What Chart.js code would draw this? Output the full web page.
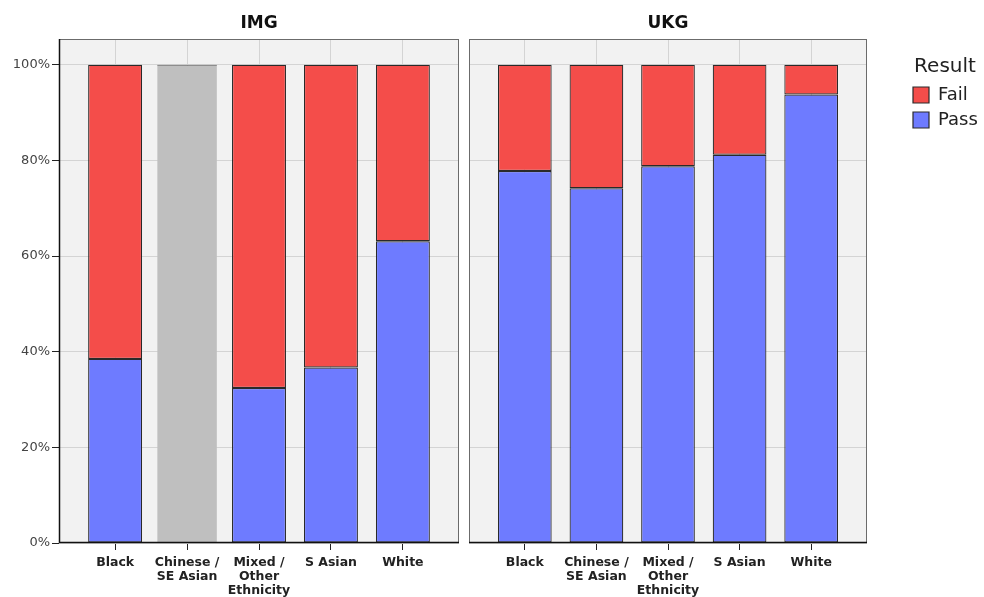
<!DOCTYPE html>
<html><head><meta charset="utf-8">
<script src="https://cdn.jsdelivr.net/npm/chart.js@4"></script>
<style>
html,body{margin:0;padding:0;background:#fff;}
#wrap{position:relative;width:984px;height:597px;overflow:hidden;}
canvas{position:absolute;top:0;}
#cL{left:0;} #cR{left:464px;}
</style></head><body>
<div id="wrap">
<canvas id="cL" width="464" height="597"></canvas>
<canvas id="cR" width="520" height="597"></canvas>
</div>
<script>
// ---- data ----
const categories = [["Black"], ["Chinese /", "SE Asian"], ["Mixed /", "Other", "Ethnicity"], ["S Asian"], ["White"]];
const panelTitles = ["IMG", "UKG"];
const imgPass = [38.5, null, 32.4, 36.7, 63.1];
const imgFail = [61.5, null, 67.6, 63.3, 36.9];
const imgNoResult = [null, 100, null, null, null];
const ukgPass = [77.8, 74.2, 78.8, 81.2, 93.8];
const ukgFail = [22.2, 25.8, 21.2, 18.8, 6.2];
const yTicks = [0, 20, 40, 60, 80, 100];
const legendTitle = "Result";

// ---- styles ----
const PASS = '#6e7bff', FAIL = '#f44d4a', EDGE = '#2a2a2a', GRID = '#d4d4d4';
Chart.defaults.font.family = "'DejaVu Sans', sans-serif";
Chart.defaults.animation = false;

const panelPlugin = {
  id: 'panel',
  beforeDraw(chart) {
    const {ctx, chartArea: a} = chart;
    ctx.save();
    ctx.fillStyle = '#f2f2f2';
    ctx.fillRect(a.left, a.top, a.right - a.left, a.bottom - a.top);
    ctx.restore();
  },
  afterDraw(chart, args, opts) {
    const {ctx, chartArea: a} = chart;
    const L = Math.round(a.left), R = Math.round(a.right), T = Math.round(a.top), B = Math.round(a.bottom);
    ctx.save();
    ctx.lineWidth = 1;
    ctx.strokeStyle = '#6b6b6b';
    ctx.strokeRect(L + 0.5, T + 0.5, R - L - 1, B - T - 1);
    ctx.strokeStyle = '#111';
    ctx.lineWidth = 1.5;
    ctx.beginPath();
    ctx.moveTo(L, B - 0.5); ctx.lineTo(R, B - 0.5);
    if (opts.leftAxis) { ctx.moveTo(L + 0.5, T); ctx.lineTo(L + 0.5, B); }
    ctx.stroke();
    ctx.restore();
  }
};

function xScale() {
  return {
    type: 'linear', stacked: true, min: -0.78, max: 4.78, bounds: 'data', offset: false,
    afterBuildTicks: s => { s.ticks = categories.map((c, i) => ({value: i})); },
    afterFit: s => { s.height = 54; },
    grid: {offset: false, color: GRID, lineWidth: 1, tickColor: '#222', tickLength: 7, drawTicks: true},
    border: {display: false},
    ticks: {autoSkip: false, maxRotation: 0, minRotation: 0, padding: 6, color: '#222',
      font: {size: 12.5, weight: 'bold', lineHeight: 1.12},
      callback: v => categories[v]}
  };
}
function yScale(left) {
  return {
    type: 'linear', stacked: true, min: 0, max: 105.4, bounds: 'data',
    position: left ? 'left' : 'right',
    afterBuildTicks: sc => { sc.ticks = yTicks.map(v => ({value: v})); },
    afterFit: sc => { sc.width = left ? 59 : 39; },
    border: {display: false},
    grid: {color: GRID, lineWidth: 1, tickColor: '#222', tickLength: 7, drawTicks: left},
    ticks: {display: left, padding: 2, color: '#444', font: {size: 13}, callback: v => v + '%'}
  };
}
function titleOpts(t) {
  return {display: true, text: t, fullSize: false, color: '#111',
    font: {size: 17, weight: 'bold', lineHeight: 1.2}, padding: {top: 13, bottom: 5.6}};
}
function ds(label, data, color) {
  return {label, data, backgroundColor: color, borderColor: EDGE, borderWidth: 1.2,
    borderSkipped: false, barPercentage: 0.75, categoryPercentage: 1};
}
const idx = categories.map((c, i) => i);

new Chart(document.getElementById('cL'), {
  type: 'bar',
  plugins: [panelPlugin],
  data: {
    labels: idx,
    datasets: [
      ds('Pass', imgPass, PASS),
      ds('Fail', imgFail, FAIL),
      {label: 'No result', data: imgNoResult, backgroundColor: '#bfbfbf', borderColor: '#555',
       borderWidth: {top: 1, left: 0, right: 0, bottom: 0}, borderSkipped: false,
       barPercentage: 0.83, categoryPercentage: 1}
    ]
  },
  options: {
    responsive: false,
    layout: {padding: {left: 0, right: 5, top: 0, bottom: 0}},
    scales: {x: xScale(), y: yScale(true)},
    plugins: {
      panel: {leftAxis: true},
      legend: {display: false},
      tooltip: {enabled: false},
      title: titleOpts(panelTitles[0])
    }
  }
});

new Chart(document.getElementById('cR'), {
  type: 'bar',
  plugins: [panelPlugin],
  data: {
    labels: idx,
    datasets: [ds('Pass', ukgPass, PASS), ds('Fail', ukgFail, FAIL)]
  },
  options: {
    responsive: false,
    layout: {padding: {left: 5, right: 0, top: 0, bottom: 0}},
    scales: {x: xScale(), y: yScale(false)},
    plugins: {
      panel: {leftAxis: false},
      tooltip: {enabled: false},
      title: titleOpts(panelTitles[1]),
      legend: {
        display: true, position: 'right', align: 'start', reverse: true, maxWidth: 78,
        title: {display: true, text: legendTitle, position: 'center', color: '#222',
          font: {size: 20, lineHeight: 1.2}, padding: {top: 57, bottom: -2}},
        labels: {boxWidth: 16, boxHeight: 16, padding: 7, color: '#222', font: {size: 18}}
      }
    }
  }
});
</script>
</body></html>
